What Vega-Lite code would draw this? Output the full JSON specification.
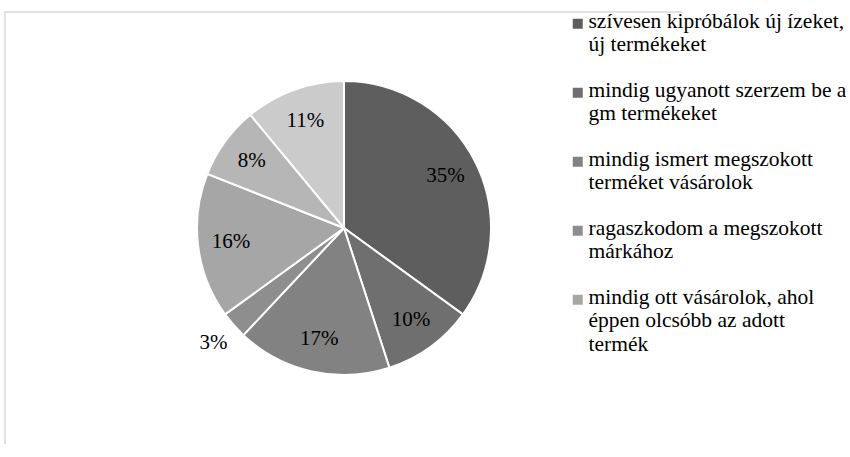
{
  "$schema": "https://vega.github.io/schema/vega-lite/v6.json",
  "width": 678,
  "height": 432,
  "autosize": "none",
  "padding": {"left": 5, "top": 12, "right": 167, "bottom": 13},
  "background": "white",
  "view": {"stroke": "#d9d9d9", "strokeWidth": 1.5, "strokeDash": [678, 1110, 432, 0.01]},
  "config": {
    "font": "Liberation Serif"
  },
  "data": {
    "values": [
      {"n": 1, "category": "szívesen kipróbálok új ízeket, új termékeket", "share": 0.35},
      {"n": 2, "category": "mindig ugyanott szerzem be a gm termékeket", "share": 0.10},
      {"n": 3, "category": "mindig ismert megszokott terméket vásárolok", "share": 0.17},
      {"n": 4, "category": "ragaszkodom a megszokott márkához", "share": 0.03},
      {"n": 5, "category": "mindig ott vásárolok, ahol éppen olcsóbb az adott termék", "share": 0.16},
      {"n": 6, "category": "kategória 6", "share": 0.08},
      {"n": 7, "category": "kategória 7", "share": 0.11}
    ]
  },
  "encoding": {
    "theta": {"field": "share", "type": "quantitative", "stack": true},
    "order": {"field": "n", "type": "quantitative"}
  },
  "layer": [
    {
      "mark": {"type": "arc", "outerRadius": 147, "stroke": "white", "strokeWidth": 2},
      "encoding": {
        "color": {
          "field": "category",
          "type": "nominal",
          "sort": null,
          "scale": {
            "domain": [
              "szívesen kipróbálok új ízeket, új termékeket",
              "mindig ugyanott szerzem be a gm termékeket",
              "mindig ismert megszokott terméket vásárolok",
              "ragaszkodom a megszokott márkához",
              "mindig ott vásárolok, ahol éppen olcsóbb az adott termék",
              "kategória 6",
              "kategória 7"
            ],
            "range": ["#5e5e5e", "#6f6f6f", "#828282", "#8e8e8e", "#a6a6a6", "#b6b6b6", "#cbcbcb"]
          },
          "legend": {
            "orient": "none",
            "legendX": 562,
            "legendY": -12,
            "padding": 0,
            "title": null,
            "values": [
              "szívesen kipróbálok új ízeket, új termékeket",
              "mindig ugyanott szerzem be a gm termékeket",
              "mindig ismert megszokott terméket vásárolok",
              "ragaszkodom a megszokott márkához",
              "mindig ott vásárolok, ahol éppen olcsóbb az adott termék"
            ],
            "symbolType": "M-1,1.6H1V3.6H-1Z",
            "symbolSize": 100,
            "symbolStrokeWidth": 0,
            "labelFont": "Liberation Serif",
            "labelFontSize": 21.5,
            "labelColor": "black",
            "labelLimit": 400,
            "labelOffset": 0,
            "labelBaseline": "top",
            "rowPadding": 13,
            "encode": {"labels": {"update": {"lineHeight": {"value": 24.5}}}},
            "labelExpr": "datum.label == 'szívesen kipróbálok új ízeket, új termékeket' ? ['szívesen kipróbálok új ízeket,', 'új termékeket'] : datum.label == 'mindig ugyanott szerzem be a gm termékeket' ? ['mindig ugyanott szerzem be a', 'gm termékeket'] : datum.label == 'mindig ismert megszokott terméket vásárolok' ? ['mindig ismert megszokott', 'terméket vásárolok'] : datum.label == 'ragaszkodom a megszokott márkához' ? ['ragaszkodom a megszokott', 'márkához'] : ['mindig ott vásárolok, ahol', 'éppen olcsóbb az adott', 'termék']"
          }
        }
      }
    },
    {
      "mark": {"type": "text", "radius": 114, "font": "Liberation Serif", "fontSize": 21, "color": "black"},
      "encoding": {
        "text": {"condition": {"test": "datum.share >= 0.05", "field": "share", "type": "quantitative", "format": ".0%"}, "value": ""}
      }
    },
    {
      "mark": {"type": "text", "radius": 174, "font": "Liberation Serif", "fontSize": 21, "color": "black"},
      "encoding": {
        "text": {"condition": {"test": "datum.share < 0.05", "field": "share", "type": "quantitative", "format": ".0%"}, "value": ""}
      }
    }
  ]
}
